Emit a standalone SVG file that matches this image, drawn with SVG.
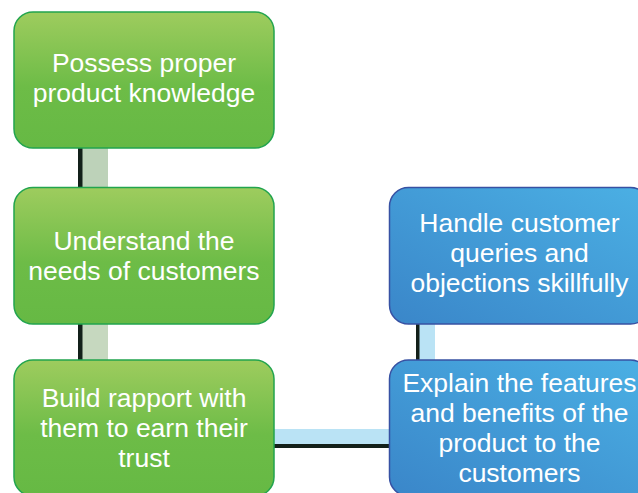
<svg xmlns="http://www.w3.org/2000/svg" width="638" height="493" viewBox="0 0 638 493">
<defs>
<linearGradient id="gGreen" x1="0" y1="0" x2="0" y2="1">
<stop offset="0" stop-color="#9ECC5E"/>
<stop offset="0.55" stop-color="#6DBC47"/>
<stop offset="1" stop-color="#66B944"/>
</linearGradient>
<linearGradient id="gBlue" x1="0" y1="1" x2="1" y2="0">
<stop offset="0" stop-color="#3A86C9"/>
<stop offset="1" stop-color="#4BB0E4"/>
</linearGradient>
<style>
.g{fill:url(#gGreen);stroke:#22A44E;stroke-width:1.5}
.b{fill:url(#gBlue);stroke:#3751A3;stroke-width:1.5}
.t{font-family:"Liberation Sans",Arial,sans-serif;font-size:26.5px;fill:#FFFFFF;text-anchor:middle}
.dark{fill:#13201A}
.lg{fill:#BDD2B9}
.lb{fill:#BAE3F5}
</style>
</defs>
<g id="connectors">
<rect class="lg" x="82" y="148" width="26" height="40"/>
<rect class="dark" x="78" y="148" width="4.5" height="40"/>
<rect class="lg" x="82" y="324" width="26" height="37" style="fill:#C6D8BF"/>
<rect class="dark" x="78" y="324" width="4.5" height="37"/>
<rect class="lb" x="416" y="324" width="19" height="37"/>
<rect class="dark" x="416" y="324" width="3.5" height="37"/>
<rect class="lb" x="273" y="429" width="118" height="15"/>
<rect class="dark" x="273" y="444" width="118" height="4"/>
</g>
<g id="node1">
<rect class="g" x="14" y="12" width="260" height="136" rx="19"/>
<text class="t" x="144" y="72">Possess proper</text>
<text class="t" x="144" y="102">product knowledge</text>
</g>
<g id="node2">
<rect class="g" x="14" y="187.5" width="260" height="136.5" rx="19"/>
<text class="t" x="144" y="250">Understand the</text>
<text class="t" x="144" y="280">needs of customers</text>
</g>
<g id="node3">
<rect class="g" x="14" y="360" width="260" height="136" rx="19"/>
<text class="t" x="144" y="407">Build rapport with</text>
<text class="t" x="144" y="437">them to earn their</text>
<text class="t" x="144" y="467">trust</text>
</g>
<g id="node4">
<rect class="b" x="389.5" y="187.5" width="260" height="136.5" rx="19"/>
<text class="t" x="519.5" y="232">Handle customer</text>
<text class="t" x="519.5" y="262">queries and</text>
<text class="t" x="519.5" y="292">objections skillfully</text>
</g>
<g id="node5">
<rect class="b" x="389.5" y="360" width="260" height="136" rx="19"/>
<text class="t" x="519.5" y="392">Explain the features</text>
<text class="t" x="519.5" y="422">and benefits of the</text>
<text class="t" x="519.5" y="452">product to the</text>
<text class="t" x="519.5" y="482">customers</text>
</g>
</svg>
